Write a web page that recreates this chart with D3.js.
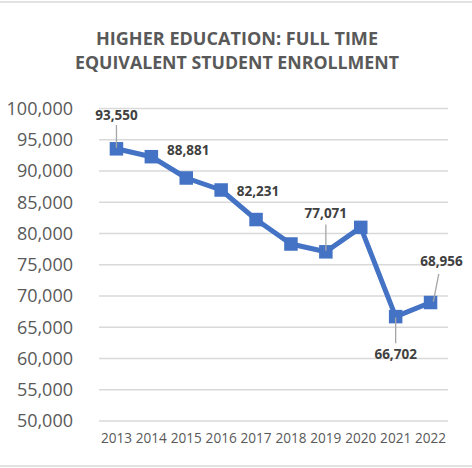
<!DOCTYPE html>
<html>
<head>
<meta charset="utf-8">
<script src="https://cdn.jsdelivr.net/npm/d3@7"></script>
<style>
  body { margin: 0; background: #fff; }
  text { font-family: "Open Sans", sans-serif; }
</style>
</head>
<body>
<div id="chart"></div>
<script>
// chart data
var years = ["2013", "2014", "2015", "2016", "2017", "2018", "2019", "2020", "2021", "2022"];
var enrollment = [93550, 92290, 88881, 86960, 82231, 78320, 77071, 80980, 66702, 68956];
var yTicks = [50000, 55000, 60000, 65000, 70000, 75000, 80000, 85000, 90000, 95000, 100000];
var titleLines = ["HIGHER EDUCATION: FULL TIME", "EQUIVALENT STUDENT ENROLLMENT"];

// which points carry a label, and where it sits (dx, dy from point; leader yes/no)
var labelled = {
  "2013": { dx: 0, dy: -34, leader: true },
  "2015": { dx: 2, dy: -28, leader: false },
  "2017": { dx: 2, dy: -28, leader: false },
  "2019": { dx: 0, dy: -39, leader: true },
  "2021": { dx: 0, dy: 38, leader: true },
  "2022": { dx: 11, dy: -41, leader: true }
};

var svgWidth = 472;
var svgHeight = 468;

var margin = { top: 108.5, right: 24, bottom: 47, left: 99 };
var width = svgWidth - margin.left - margin.right;
var height = svgHeight - margin.top - margin.bottom;

var svg = d3.select("#chart")
  .append("svg")
  .attr("width", svgWidth)
  .attr("height", svgHeight);

// outer border (only top and bottom fall inside the picture)
svg.append("rect")
  .attr("x", -5)
  .attr("y", 2)
  .attr("width", svgWidth + 10)
  .attr("height", svgHeight - 4)
  .attr("fill", "none")
  .attr("stroke", "#d9d9d9")
  .attr("stroke-width", 1.5);

// title, stretched to the widths seen in the original
var titleWidths = [282, 324];
svg.append("g").selectAll("text")
  .data(titleLines)
  .enter()
  .append("text")
  .attr("x", 237)
  .attr("y", (d, i) => 44.5 + i * 24.5)
  .attr("text-anchor", "middle")
  .attr("font-size", "18px")
  .attr("font-weight", "bold")
  .attr("fill", "#595959")
  .attr("textLength", (d, i) => titleWidths[i])
  .attr("lengthAdjust", "spacingAndGlyphs")
  .text(d => d);

var chartGroup = svg.append("g")
  .attr("transform", `translate(${margin.left}, ${margin.top})`);

var xScale = d3.scaleBand()
  .domain(years)
  .range([0, width]);

var yScale = d3.scaleLinear()
  .domain([50000, 100000])
  .range([height, 0]);

// gridlines
chartGroup.append("g")
  .selectAll("line")
  .data(yTicks)
  .enter()
  .append("line")
  .attr("x1", 0)
  .attr("x2", width)
  .attr("y1", d => yScale(d))
  .attr("y2", d => yScale(d))
  .attr("stroke", "#d9d9d9")
  .attr("stroke-width", 1.5);

// y axis
var leftAxis = d3.axisLeft(yScale)
  .tickValues(yTicks)
  .tickFormat(d3.format(","))
  .tickSize(0)
  .tickPadding(26);

chartGroup.append("g")
  .call(leftAxis)
  .call(g => g.select(".domain").remove())
  .selectAll("text")
  .attr("font-size", "18px")
  .attr("font-family", "Open Sans, sans-serif")
  .attr("fill", "#595959");

// x axis
var bottomAxis = d3.axisBottom(xScale)
  .tickSize(0)
  .tickPadding(12);

chartGroup.append("g")
  .attr("transform", `translate(0, ${height})`)
  .call(bottomAxis)
  .call(g => g.select(".domain").remove())
  .selectAll("text")
  .attr("font-size", "13.6px")
  .attr("font-family", "Open Sans, sans-serif")
  .attr("fill", "#595959");

var data = years.map((y, i) => ({ year: y, value: enrollment[i] }));
var cx = d => xScale(d.year) + xScale.bandwidth() / 2;

// line
var line = d3.line()
  .x(cx)
  .y(d => yScale(d.value));

chartGroup.append("path")
  .datum(data)
  .attr("d", line)
  .attr("fill", "none")
  .attr("stroke", "#4472c4")
  .attr("stroke-width", 5)
  .attr("stroke-linejoin", "round");

// markers
var m = 13.5;
chartGroup.selectAll("rect.marker")
  .data(data)
  .enter()
  .append("rect")
  .attr("class", "marker")
  .attr("x", d => cx(d) - m / 2)
  .attr("y", d => yScale(d.value) - m / 2)
  .attr("width", m)
  .attr("height", m)
  .attr("fill", "#4472c4");

// data labels
var labelData = data.filter(d => labelled[d.year]);

chartGroup.selectAll("line.leader")
  .data(labelData.filter(d => labelled[d.year].leader))
  .enter()
  .append("line")
  .attr("class", "leader")
  .attr("x1", d => cx(d) + labelled[d.year].dx * 0.25)
  .attr("y1", d => yScale(d.value) + (labelled[d.year].dy < 0 ? -1 : 1))
  .attr("x2", d => cx(d) + labelled[d.year].dx * 0.75)
  .attr("y2", d => yScale(d.value) + labelled[d.year].dy * 0.7)
  .attr("stroke", "#a6a6a6")
  .attr("stroke-width", 1.3);

chartGroup.selectAll("text.dlabel")
  .data(labelData)
  .enter()
  .append("text")
  .attr("class", "dlabel")
  .attr("x", d => cx(d) + labelled[d.year].dx)
  .attr("y", d => yScale(d.value) + labelled[d.year].dy)
  .attr("dy", "0.35em")
  .attr("text-anchor", "middle")
  .attr("font-size", "13.5px")
  .attr("font-weight", "bold")
  .attr("fill", "#404040")
  .text(d => d3.format(",")(d.value));
</script>
</body>
</html>
